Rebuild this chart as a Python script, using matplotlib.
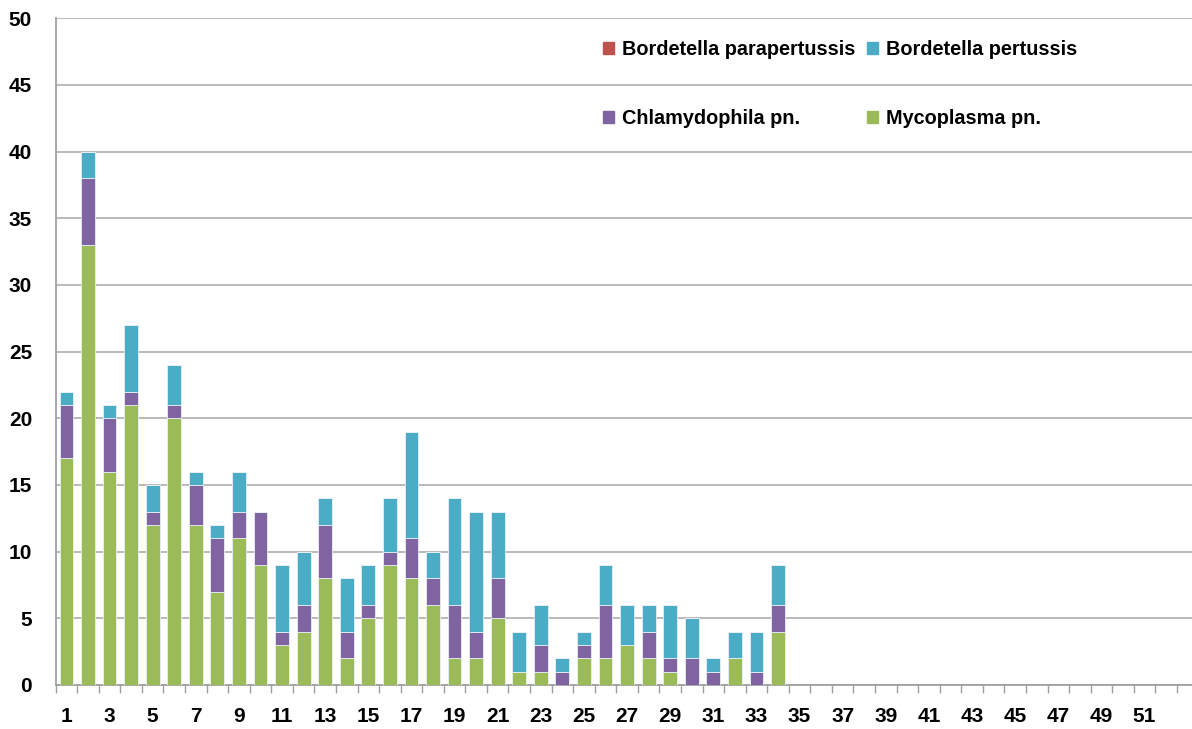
import numpy as np
import matplotlib
matplotlib.use("Agg")
import matplotlib.pyplot as plt
from matplotlib.patches import Patch

plt.rcParams['font.family'] = ['Liberation Sans', 'DejaVu Sans']
plt.rcParams['font.weight'] = 'bold'

# weeks 1..52, values
weeks = np.arange(1, 53)
myco = [17, 33, 16, 21, 12, 20, 12, 7, 11, 9, 3, 4, 8, 2, 5, 9, 8, 6, 2, 2,
        5, 1, 1, 0, 2, 2, 3, 2, 1, 0, 0, 2, 0, 4] + [0] * 18
chlamy = [4, 5, 4, 1, 1, 1, 3, 4, 2, 4, 1, 2, 4, 2, 1, 1, 3, 2, 4, 2,
          3, 0, 2, 1, 1, 4, 0, 2, 1, 2, 1, 0, 1, 2] + [0] * 18
pertussis = [1, 2, 1, 5, 2, 3, 1, 1, 3, 0, 5, 4, 2, 4, 3, 4, 8, 2, 8, 9,
             5, 3, 3, 1, 1, 3, 3, 2, 4, 3, 1, 2, 3, 3] + [0] * 18
parapertussis = [0] * 52

c_myco = '#9bbb59'
c_chlamy = '#8064a2'
c_pert = '#4bacc6'
c_para = '#c0504d'

fig = plt.figure(figsize=(11.92, 7.29), dpi=100)
ax = fig.add_axes([0.0467, 0.0604, 0.9533, 0.9145])

myco = np.array(myco)
chlamy = np.array(chlamy)
pertussis = np.array(pertussis)
parapertussis = np.array(parapertussis)

w = 0.64
kw = dict(width=w, edgecolor='#e8f0f4', linewidth=0.6, zorder=3)
ax.bar(weeks, myco, color=c_myco, **kw)
ax.bar(weeks, chlamy, bottom=myco, color=c_chlamy, **kw)
ax.bar(weeks, pertussis, bottom=myco + chlamy, color=c_pert, **kw)
ax.bar(weeks, parapertussis, bottom=myco + chlamy + pertussis, color=c_para, **kw)

ax.set_xlim(0.5, 53.2)
ax.set_ylim(0, 50)
ax.set_yticks(np.arange(0, 51, 5))
ax.yaxis.grid(True, color='#b4b4b4', linewidth=1.3, zorder=0)
ax.set_axisbelow(True)

ax.set_xticks(np.arange(1, 52, 2))
ax.set_xticks(np.arange(0.5, 53, 1), minor=True)
ax.tick_params(axis='x', which='major', length=0, pad=16, labelsize=15)
ax.tick_params(axis='x', which='minor', length=6, width=1, color='#a0a0a0', direction='out')
ax.tick_params(axis='y', length=0, pad=17, labelsize=15)

for s in ['top', 'right']:
    ax.spines[s].set_visible(False)
for s in ['left', 'bottom']:
    ax.spines[s].set_color('#a0a0a0')
    ax.spines[s].set_linewidth(1.3)

handles = [Patch(color=c_para), Patch(color=c_chlamy),
           Patch(color=c_pert), Patch(color=c_myco)]
labels = ['Bordetella parapertussis', 'Chlamydophila pn.',
          'Bordetella pertussis', 'Mycoplasma pn.']
ax.legend(handles, labels, ncol=2, frameon=False, loc='upper left',
          bbox_to_anchor=(0.4817, 0.967), borderpad=0, borderaxespad=0,
          handlelength=0.55, handleheight=0.55, handletextpad=0.4,
          columnspacing=0.6, labelspacing=2.5, prop={'size': 14.3, 'weight': 'bold'})

fig.savefig('out.png', dpi=100)
